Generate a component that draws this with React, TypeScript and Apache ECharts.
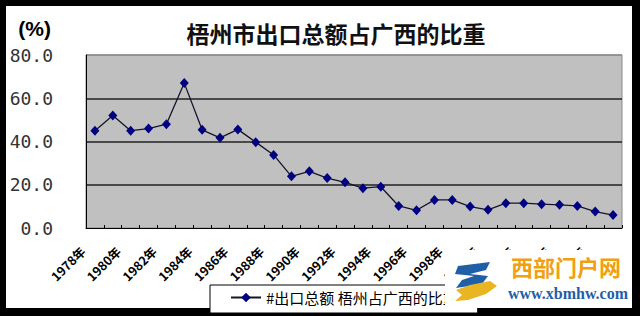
import React, { useEffect, useRef } from "react";
import * as echarts from "echarts";

const titleText = "梧州市出口总额占广西的比重";
const unitText = "(%)";
const seriesName = "#出口总额 梧州占广西的比重";
const years = [
  "1978年", "1979年", "1980年", "1981年", "1982年", "1983年", "1984年", "1985年",
  "1986年", "1987年", "1988年", "1989年", "1990年", "1991年", "1992年", "1993年",
  "1994年", "1995年", "1996年", "1997年", "1998年", "1999年", "2000年", "2001年",
  "2002年", "2003年", "2004年", "2005年", "2006年", "2007年",
];
const shares = [
  45.0, 52.0, 45.0, 46.0, 48.0, 67.0, 45.4, 41.7, 45.6, 39.7, 33.8, 23.9, 26.2, 23.1, 21.1,
  18.4, 19.1, 10.2, 8.2, 13.0, 13.0, 9.9, 8.4, 11.5, 11.5, 11.0, 10.7, 10.2, 7.6, 6.0,
];
const watermarkName = "西部门户网";
const watermarkUrl = "www.xbmhw.com";

export default function App() {
  const ref = useRef<HTMLDivElement>(null);
  useEffect(() => {
    if (!ref.current) return;
    const chart = echarts.init(ref.current, undefined, { renderer: "svg" });
    chart.setOption({
      animation: false,
      backgroundColor: "#000000",
      title: {
        text: titleText,
        left: 331,
        textAlign: "center",
        top: 16,
        textStyle: {
          fontFamily: "Noto Sans CJK SC",
          fontSize: 23,
          fontWeight: "bold",
          color: "#111",
        },
      },
      grid: {
        left: 86,
        right: 18,
        top: 55,
        bottom: 88,
        show: true,
        backgroundColor: "#c0c0c0",
        borderColor: "#8a8a8a",
        borderWidth: 1,
        containLabel: false,
      },
      legend: {
        left: 210,
        top: 285,
        padding: [5, 20, 8, 20],
        backgroundColor: "#ffffff",
        borderColor: "#000000",
        borderWidth: 1,
        itemWidth: 30,
        itemHeight: 12,
        itemGap: 5,
        textStyle: {
          fontFamily: "Noto Sans CJK SC",
          fontSize: 15,
          color: "#000",
        },
        data: [seriesName],
      },
      xAxis: {
        type: "category",
        data: years,
        boundaryGap: true,
        axisLine: { lineStyle: { color: "#000", width: 1 } },
        axisTick: {
          show: true,
          inside: true,
          length: 3,
          interval: 0,
          lineStyle: { color: "#000" },
        },
        axisLabel: {
          interval: 1,
          rotate: 45,
          margin: 9,
          padding: [0, 17, 0, 0],
          fontFamily: "Noto Sans CJK SC",
          fontSize: 12.5,
          fontWeight: "bold",
          color: "#000",
        },
      },
      yAxis: {
        type: "value",
        min: 0,
        max: 80,
        interval: 20,
        name: unitText,
        nameLocation: "end",
        nameGap: 27,
        nameTextStyle: {
          align: "right",
          verticalAlign: "middle",
          padding: [0, 35, 0, 0],
          fontFamily: "Liberation Sans",
          fontWeight: "bold",
          fontSize: 21,
          color: "#000",
        },
        axisLine: { show: true, lineStyle: { color: "#000", width: 1 } },
        axisTick: { show: false },
        axisLabel: {
          margin: 33,
          formatter: (v: number) => v.toFixed(1),
          fontFamily: "DejaVu Sans Mono",
          fontSize: 18,
          color: "#333",
        },
        splitLine: {
          show: true,
          lineStyle: {
            color: ["transparent", "#222", "#222", "#222", "#8a8a8a"],
            width: 1.5,
          },
        },
      },
      series: [
        {
          name: seriesName,
          type: "line",
          data: shares,
          symbol: "diamond",
          symbolSize: [9, 10],
          itemStyle: { color: "#000080" },
          lineStyle: { color: "#15152a", width: 1.3 },
        },
      ],
      graphic: [
        {
          type: "rect",
          z: -10,
          shape: { x: 6, y: 6, width: 626, height: 302 },
          style: { fill: "#ffffff" },
          silent: true,
        },
        {
          type: "group",
          z: 100,
          children: [
            {
              type: "rect",
              z: 100,
              shape: { x: 445, y: 250, width: 187, height: 58 },
              style: { fill: "#ffffff" },
            },
            {
              type: "polygon",
              z: 101,
              shape: { points: [[458, 266], [490, 262], [486, 270], [470, 274], [488, 276], [482, 284], [456, 288], [462, 280], [474, 276], [455, 274]] },
              style: { fill: "#1f5fa8" },
            },
            {
              type: "polygon",
              z: 101,
              shape: { points: [[456, 290], [470, 285], [490, 281], [497, 286], [486, 294], [468, 300], [455, 301], [462, 295]] },
              style: { fill: "#e9b522" },
            },
            {
              type: "text",
              z: 101,
              x: 511,
              y: 255,
              style: {
                text: watermarkName,
                fontFamily: "Noto Sans CJK SC",
                fontWeight: "bold",
                fontSize: 22,
                fill: "#f0a010",
                textLetterSpacing: 2,
              },
            },
            {
              type: "text",
              z: 101,
              x: 508,
              y: 285,
              style: {
                text: watermarkUrl,
                fontFamily: "Liberation Serif",
                fontWeight: "bold",
                fontSize: 16,
                fill: "#1f5fa8",
              },
            },
          ],
        },
      ],
    });
    return () => chart.dispose();
  }, []);
  return (
    <div
      ref={ref}
      style={{ position: "fixed", left: 0, top: 0, width: 640, height: 316 }}
    />
  );
}
